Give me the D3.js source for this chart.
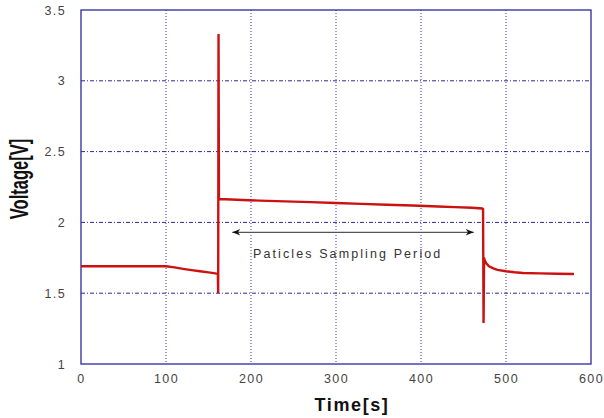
<!DOCTYPE html>
<html><head><meta charset="utf-8">
<script src="https://cdn.jsdelivr.net/npm/d3@7"></script>
<style>body{margin:0;background:#fff}svg{display:block}</style>
</head><body>
<svg id="c" width="604" height="418"></svg>
<script>
const xTicks = [0,100,200,300,400,500,600];
const yTicks = [1,1.5,2,2.5,3,3.5];
const yTickLabels = ["1","1.5","2","2.5","3","3.5"];
const time = [0,50,100,110,120,130,140,150,158,161,161.4,161.8,162.3,170,190,210,230,250,270,300,330,360,390,420,440,460,472,473,473.6,474.2,475,477,480,485,490,500,510,520,540,560,580];
const voltage = [1.69,1.69,1.69,1.682,1.672,1.663,1.655,1.647,1.640,1.636,1.50,3.33,2.165,2.163,2.158,2.154,2.150,2.147,2.143,2.137,2.131,2.125,2.119,2.112,2.108,2.103,2.098,2.095,1.29,1.75,1.73,1.71,1.69,1.675,1.665,1.655,1.648,1.643,1.640,1.637,1.636];
const arrowRange = [178,462];
const arrowV = 1.93;
const annotation = "Paticles Sampling Period";

const svg = d3.select("#c");
const m = {l:81,r:591,t:10,b:364};
const x = d3.scaleLinear().domain([0,600]).range([m.l,m.r]);
const y = d3.scaleLinear().domain([1,3.5]).range([m.b,m.t]);
const navy = "#2a2a9a";

// grid
svg.append("g").selectAll("line").data(xTicks.slice(1,-1)).join("line")
  .attr("x1",d=>x(d)).attr("x2",d=>x(d)).attr("y1",m.t).attr("y2",m.b)
  .attr("stroke","#3a3aa8").attr("stroke-width",1).attr("stroke-dasharray","1,2");
svg.append("g").selectAll("line").data(yTicks.slice(1,-1)).join("line")
  .attr("y1",d=>y(d)).attr("y2",d=>y(d)).attr("x1",m.l).attr("x2",m.r)
  .attr("stroke","#2a2a9a").attr("stroke-width",1).attr("stroke-dasharray","4,2,1,2");

// frame
svg.append("rect").attr("x",m.l).attr("y",m.t).attr("width",m.r-m.l).attr("height",m.b-m.t)
  .attr("fill","none").attr("stroke",navy).attr("stroke-width",1.3);

// axes labels via d3 axes
const xa = svg.append("g").attr("transform",`translate(0,${m.b})`)
  .call(d3.axisBottom(x).tickValues(xTicks).tickSize(0).tickPadding(10).tickFormat(d3.format("d")));
const ya = svg.append("g").attr("transform",`translate(${m.l},0)`)
  .call(d3.axisLeft(y).tickValues(yTicks).tickSize(0).tickPadding(15).tickFormat((d,i)=>yTickLabels[i]));
[xa,ya].forEach(a=>{
  a.select(".domain").remove();
  a.selectAll("text").attr("font-family","Liberation Sans, Arial, sans-serif")
    .attr("font-size",12.5).attr("fill","#444").style("letter-spacing","1.4px");
});

// data line
const line = d3.line().x((d,i)=>x(time[i])).y((d,i)=>y(voltage[i]));
svg.append("path").datum(voltage).attr("d",line).attr("fill","none")
  .attr("stroke","#cc1111").attr("stroke-width",2.4).attr("stroke-linejoin","miter");

// arrow
const defs = svg.append("defs");
defs.append("marker").attr("id","ah").attr("viewBox","0 0 10 10").attr("refX",10).attr("refY",5)
  .attr("markerWidth",10).attr("markerHeight",8).attr("markerUnits","userSpaceOnUse").attr("orient","auto-start-reverse")
  .append("path").attr("d","M0,1 L10,5 L0,9 L3,5 Z").attr("fill","#111");
svg.append("line").attr("x1",x(arrowRange[0])).attr("x2",x(arrowRange[1]))
  .attr("y1",y(arrowV)).attr("y2",y(arrowV)).attr("stroke","#555").attr("stroke-width",1.2)
  .attr("marker-start","url(#ah)").attr("marker-end","url(#ah)");
svg.append("text").attr("x",253).attr("y",258).text(annotation)
  .attr("font-family","Liberation Sans, Arial, sans-serif").attr("font-size",12.5)
  .attr("fill","#333").style("letter-spacing","2.1px");

// axis titles
svg.append("text").attr("x",352).attr("y",411).attr("text-anchor","middle").text("Time[s]")
  .attr("font-family","Liberation Sans, Arial, sans-serif").attr("font-weight","bold").attr("font-size",18).attr("fill","#111")
  .style("letter-spacing","1.6px");
svg.append("text").attr("transform","translate(28,179) rotate(-90) scale(0.66,1)").attr("text-anchor","middle").text("Voltage[V]")
  .attr("font-family","Liberation Sans, Arial, sans-serif").attr("font-weight","bold").attr("font-size",25).attr("fill","#111");
</script>
</body></html>
